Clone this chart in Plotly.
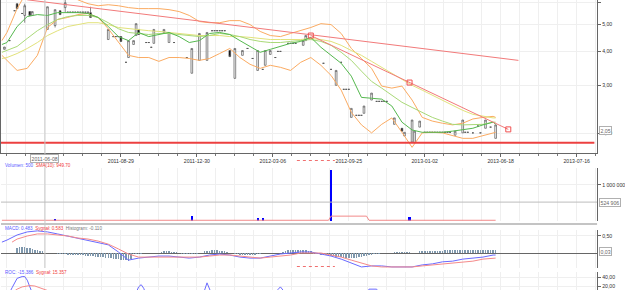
import math
import plotly.graph_objects as go

# ---------------- data ----------------
date_tick_idx = [45, 75, 105, 135, 165, 195, 225]
date_tick_lab = ["2011-08-29", "2011-12-30", "2012-03-06", "2012-09-25",
                 "2013-01-02", "2013-06-18", "2013-07-16"]
cursor_idx = 15
cursor_date = "2011-06-08"
cursor_price = 2.05
cursor_volume = 524906
cursor_macd = 0.03
marked_span = [114.5, 129.5]   # bar range marked with a red dotted bracket

# candles with a body (bar index, open, high, low, close)
b_idx = [-1, 4, 7, 9, 10, 16, 19, 21, 23, 33, 40, 45, 48, 50, 51, 52, 58, 62, 64, 73,
         76, 79, 88, 90, 93, 99, 102, 104, 117, 118, 130, 136, 141, 144, 153, 156, 157,
         160, 161, 163, 177, 180, 189, 193]
b_open = [4.06, 5.96, 5.40, 5.58, 5.40, 4.80, 4.96, 5.62, 5.77, 5.53, 4.41, 4.52, 3.79,
          4.23, 4.56, 4.80, 4.27, 4.68, 4.30, 3.32, 3.70, 3.70, 4.02, 3.18, 3.86, 3.40,
          3.55, 3.89, 4.20, 4.37, 3.00, 2.29, 2.37, 2.65, 2.16, 2.09, 1.96, 1.86, 1.85,
          2.11, 1.97, 2.01, 2.09, 1.92]
b_high = [4.14, 5.96, 5.96, 5.58, 5.58, 5.81, 5.67, 5.62, 6.30, 5.81, 4.80, 4.52, 4.37,
          4.37, 5.04, 4.80, 4.80, 4.80, 4.68, 4.09, 4.64, 4.68, 4.02, 4.09, 4.02, 4.02,
          4.02, 4.02, 4.37, 4.56, 3.40, 2.47, 2.52, 2.81, 2.28, 2.09, 2.02, 2.24, 2.04,
          2.22, 2.04, 2.24, 2.24, 2.15]
b_low = [4.06, 5.72, 5.08, 5.40, 5.40, 4.80, 4.88, 5.44, 5.53, 5.31, 4.41, 4.34, 3.79,
         4.23, 4.56, 4.60, 4.27, 4.68, 4.30, 3.32, 3.70, 3.70, 3.82, 3.18, 3.86, 3.40,
         3.55, 3.89, 4.20, 4.37, 3.00, 2.29, 2.37, 2.65, 2.16, 2.04, 1.96, 1.86, 1.85,
         2.11, 1.97, 2.01, 2.09, 1.92]
b_close = [4.14, 5.72, 5.86, 5.40, 5.58, 5.81, 5.67, 5.44, 6.01, 5.31, 4.80, 4.34, 4.37,
           4.37, 5.04, 4.60, 4.80, 4.80, 4.68, 4.09, 4.64, 4.68, 3.82, 4.09, 4.02, 4.02,
           4.02, 4.02, 4.37, 4.56, 3.40, 2.47, 2.52, 2.81, 2.28, 2.04, 2.02, 2.24, 2.04,
           2.22, 2.04, 2.24, 2.24, 2.15]

# flat sessions (open = high = low = close)
d_idx = [1, 3, 6, 24, 25, 26, 27, 28, 29, 30, 31, 32, 42, 43, 44, 47, 55, 56, 57, 66, 71,
         81, 82, 83, 84, 85, 86, 95, 97, 101, 106, 107, 108, 111, 112, 113, 114, 125, 128,
         132, 133, 134, 135, 138, 139, 140, 146, 147, 148, 149, 150, 165, 166, 167, 168,
         169, 170, 171, 172, 173, 174, 175, 181, 182, 184, 186, 187, 191]
d_price = [4.37, 5.62, 5.49, 5.55, 5.55, 5.55, 5.55, 5.55, 5.55, 5.55, 5.55, 5.55, 4.52,
           4.52, 4.52, 3.64, 4.30, 4.30, 4.13, 4.30, 3.79, 4.75, 4.75, 4.75, 4.75, 4.75,
           4.75, 4.09, 3.76, 3.43, 3.79, 3.99, 3.99, 4.27, 4.27, 4.27, 4.27, 3.61, 3.43,
           3.64, 2.90, 2.90, 2.90, 2.33, 2.33, 2.33, 2.62, 2.62, 2.62, 2.62, 2.62, 2.02,
           2.02, 2.02, 2.02, 2.02, 2.02, 2.02, 2.02, 2.02, 2.02, 2.02, 2.02, 2.02, 2.01,
           2.13, 2.01, 2.11]

# indicator lines sampled at these bar indices
ind_x = [-2, 0, 4, 8, 12, 16, 20, 24, 28, 32, 36, 40, 44, 48, 52, 56, 60, 64, 68, 72, 76,
         80, 84, 88, 92, 96, 100, 104, 108, 112, 116, 120, 124, 128, 132, 136, 140, 144,
         148, 152, 156, 160, 164, 168, 172, 176, 180, 184, 188, 192, 193]
ma_fast = [4.23, 4.30, 4.92, 5.35, 5.44, 5.40, 5.53, 5.53, 5.53, 5.49, 5.31, 4.92, 4.52,
           4.37, 4.68, 4.52, 4.60, 4.68, 4.52, 4.30, 4.37, 4.64, 4.68, 4.60, 4.37, 4.16,
           3.96, 4.06, 4.16, 4.27, 4.34, 4.49, 4.13, 3.86, 3.61, 3.24, 2.71, 2.69, 2.67,
           2.52, 2.20, 2.06, 2.02, 2.02, 2.02, 2.04, 2.06, 2.09, 2.15, 2.20, 2.16]
ma_mid = [3.96, 4.02, 4.16, 4.45, 4.75, 5.00, 5.22, 5.35, 5.40, 5.40, 5.31, 5.08, 4.83,
          4.68, 4.64, 4.60, 4.64, 4.64, 4.60, 4.56, 4.52, 4.56, 4.64, 4.60, 4.52, 4.41,
          4.34, 4.30, 4.30, 4.34, 4.37, 4.41, 4.34, 4.20, 3.96, 3.70, 3.38, 3.10, 2.93,
          2.76, 2.60, 2.49, 2.39, 2.29, 2.22, 2.16, 2.15, 2.15, 2.16, 2.20, 2.20]
ma_slow = [3.76, 3.79, 3.92, 4.09, 4.30, 4.56, 4.75, 4.92, 5.00, 5.08, 5.08, 5.00, 4.88,
           4.83, 4.80, 4.75, 4.72, 4.68, 4.64, 4.60, 4.56, 4.56, 4.56, 4.52, 4.52, 4.49,
           4.45, 4.41, 4.41, 4.41, 4.41, 4.45, 4.41, 4.34, 4.20, 4.02, 3.86, 3.67, 3.49,
           3.32, 3.16, 3.00, 2.88, 2.76, 2.65, 2.54, 2.43, 2.35, 2.31, 2.28, 2.28]
bb_upper = [4.37, 4.68, 5.72, 6.64, 7.23, 7.23, 6.93, 6.54, 6.16, 5.96, 5.86, 5.91, 5.86,
            5.77, 5.72, 5.72, 5.72, 5.67, 5.58, 5.40, 5.13, 5.08, 5.08, 5.17, 5.17, 5.00,
            4.72, 4.56, 4.52, 4.64, 4.75, 4.88, 5.04, 5.00, 4.64, 4.09, 3.76, 3.46, 2.98,
            2.93, 2.98, 2.65, 2.29, 2.22, 2.18, 2.15, 2.18, 2.26, 2.29, 2.31, 2.29]
bb_lower = [3.86, 3.70, 3.40, 3.46, 3.86, 4.88, 5.22, 5.31, 5.44, 5.49, 5.31, 4.83, 4.30,
            3.86, 3.79, 3.79, 3.67, 3.79, 3.79, 3.76, 3.70, 3.76, 3.92, 4.09, 3.79, 3.58,
            3.46, 3.55, 3.49, 3.40, 3.64, 3.79, 3.55, 3.26, 2.88, 2.39, 2.15, 2.01, 2.16,
            2.28, 2.02, 1.78, 2.01, 2.02, 2.01, 1.96, 1.92, 1.92, 1.96, 2.01, 2.02]

# drawn trend lines
trend1_x = [8, 202]
trend1_y = [6.16, 3.70]
trend2_x = [120, 159, 198]
trend2_y = [4.56, 3.07, 2.07]
support_x = [-3, 232]
support_y = [1.85, 1.85]

# volume
vol_idx = [19, 73, 99, 101, 128, 159]
vol_val = [60000, 140000, 90000, 90000, 1420000, 120000]
vol_sma_x = [-2, 127, 128, 142, 143, 193]
vol_sma_y = [20000, 20000, 135000, 135000, 20000, 20000]

# MACD
macd_line = [0.32, 0.38, 0.53, 0.62, 0.65, 0.62, 0.56, 0.50, 0.44, 0.38, 0.32, 0.24, 0.03,
             -0.21, -0.15, -0.12, -0.09, -0.09, -0.12, -0.15, -0.12, -0.06, -0.03, -0.06,
             -0.12, -0.15, -0.15, -0.09, -0.03, 0.00, 0.03, 0.03, -0.03, -0.09, -0.18,
             -0.29, -0.41, -0.38, -0.38, -0.41, -0.41, -0.41, -0.35, -0.32, -0.26, -0.24,
             -0.18, -0.15, -0.12, -0.06, -0.06]
sig_x = [2, 4, 8, 12, 16, 20, 24, 28, 32, 36, 40, 44, 48, 52, 56, 60, 64, 68, 72, 76, 80,
         84, 88, 92, 96, 100, 104, 108, 112, 116, 120, 124, 128, 132, 136, 140, 144, 148,
         152, 156, 160, 164, 168, 172, 176, 180, 184, 188, 192, 193]
sig_line = [0.32, 0.41, 0.50, 0.56, 0.56, 0.53, 0.50, 0.44, 0.41, 0.35, 0.26, 0.12, -0.03,
            -0.12, -0.12, -0.12, -0.12, -0.12, -0.12, -0.12, -0.09, -0.06, -0.06, -0.09,
            -0.12, -0.15, -0.12, -0.09, -0.06, 0.00, 0.00, 0.00, -0.06, -0.12, -0.21,
            -0.29, -0.38, -0.41, -0.41, -0.41, -0.41, -0.38, -0.35, -0.32, -0.29, -0.26,
            -0.24, -0.18, -0.15, -0.15]
hist_segments = [
    (4, [0.15, 0.17, 0.17, 0.17, 0.15, 0.14, 0.12, 0.09, 0.08, 0.06, 0.05]),
    (20, [-0.03, -0.03, -0.04, -0.04, -0.05, -0.05, -0.05, -0.05, -0.06, -0.07, -0.07,
          -0.08, -0.08, -0.09, -0.10, -0.11, -0.11, -0.12, -0.13, -0.14, -0.15, -0.16,
          -0.17, -0.18, -0.19, -0.20, -0.21, -0.22, -0.23, -0.18]),
    (50, [-0.03, -0.02, -0.02, -0.02, -0.01, -0.01]),
    (61, [0.04, 0.05, 0.05, 0.05, 0.04, 0.04, 0.03]),
    (69, [-0.02, -0.03, -0.03, -0.03, -0.03, -0.02, -0.02, -0.01]),
    (78, [0.05, 0.06, 0.07, 0.08, 0.08, 0.08, 0.07, 0.07, 0.06, 0.04]),
    (90, [-0.03, -0.04, -0.05, -0.05, -0.06, -0.06, -0.06, -0.05, -0.05, -0.04, -0.03]),
    (109, [0.04, 0.06, 0.08, 0.09, 0.09, 0.09, 0.09, 0.09, 0.08, 0.08, 0.07, 0.05]),
    (121, [-0.02, -0.03, -0.04, -0.05, -0.06, -0.07, -0.08, -0.09, -0.10, -0.11, -0.12,
           -0.13, -0.14, -0.14, -0.15, -0.15, -0.15, -0.14, -0.13, -0.12, -0.10, -0.08,
           -0.06, -0.05, -0.04, -0.03, -0.02]),
    (153, [0.02, 0.02, 0.02, 0.02, 0.02, 0.02, 0.02]),
    (163, [0.05, 0.05, 0.06, 0.06, 0.06, 0.06, 0.07, 0.07, 0.07, 0.07, 0.08, 0.08, 0.08,
           0.08, 0.08, 0.09, 0.09, 0.09, 0.09, 0.09, 0.10, 0.10, 0.10, 0.10, 0.10, 0.10,
           0.10, 0.10, 0.10, 0.10, 0.10]),
]

# ROC
roc_x = [-2, 1, 2, 3, 4, 6, 7, 8, 9, 10, 11, 49, 51, 52, 53, 54, 55, 76, 78, 79, 80, 81,
         106, 107, 108, 109, 112, 141, 143, 146, 148, 193]
roc_y = [-5, 5, 16, 28, 37, 41, 41, 33, 20, 5, -10, -10, 5, 18, 23, 15, 0, -10, 10, 27, 15,
         0, -10, 12, 18, 8, -10, -5, 13, 13, -5, -15]
roc_sig_x = [2, 4, 6, 9, 11, 13, 16, 19, 193]
roc_sig_y = [5, 13, 18, 21, 20, 16, 10, 0, -10]

# ---------------- figure ----------------
W, H = 625, 290
PLOT_R = 598 / W
FONT = "Liberation Sans"
def py(px):  # paper y from pixel row
    return 1 - px / H

hist_x, hist_y = [], []
for start, vals in hist_segments:
    for k, v in enumerate(vals):
        hist_x.append(start + k)
        hist_y.append(v)

fig = go.Figure()

c_x = b_idx + d_idx
fig.add_trace(go.Candlestick(
    x=c_x, open=b_open + d_price, high=b_high + d_price, low=b_low + d_price,
    close=b_close + d_price, xaxis="x", yaxis="y",
    increasing=dict(line=dict(color="#555555", width=0.7), fillcolor="#ffffff"),
    decreasing=dict(line=dict(color="#555555", width=0.7), fillcolor="#000000"),
    whiskerwidth=0, hoverinfo="skip"))

for vals, col in [(bb_upper, "#fbab62"), (bb_lower, "#fbab62"), (ma_slow, "#e2e27a"),
                  (ma_mid, "#a9d977"), (ma_fast, "#55b84e")]:
    fig.add_trace(go.Scatter(x=ind_x, y=vals, mode="lines", xaxis="x", yaxis="y",
                             line=dict(color=col, width=1), hoverinfo="skip"))

fig.add_trace(go.Scatter(x=trend1_x, y=trend1_y, mode="lines", xaxis="x", yaxis="y",
                         line=dict(color="#f27a7a", width=1)))
fig.add_trace(go.Scatter(x=trend2_x, y=trend2_y, mode="lines+markers", xaxis="x", yaxis="y",
                         line=dict(color="#f27a7a", width=1),
                         marker=dict(symbol="square-open", size=5, color="#f05050",
                                     line=dict(width=1))))
fig.add_trace(go.Scatter(x=support_x, y=support_y, mode="lines", xaxis="x", yaxis="y",
                         line=dict(color="#ec4040", width=2)))

# volume
fig.add_trace(go.Bar(x=vol_idx, y=vol_val, xaxis="x2", yaxis="y2", width=0.9,
                     marker=dict(color="#0000ff", line=dict(width=0))))
fig.add_trace(go.Scatter(x=vol_sma_x, y=vol_sma_y, mode="lines", xaxis="x2", yaxis="y2",
                         line=dict(color="#f28a8a", width=1)))

# MACD
fig.add_trace(go.Bar(x=hist_x, y=hist_y, xaxis="x3", yaxis="y3", width=0.6,
                     marker=dict(color="#7f98ad", line=dict(width=0))))
fig.add_trace(go.Scatter(x=ind_x, y=macd_line, mode="lines", xaxis="x3", yaxis="y3",
                         line=dict(color="#6a6aff", width=1)))
fig.add_trace(go.Scatter(x=sig_x, y=sig_line, mode="lines", xaxis="x3", yaxis="y3",
                         line=dict(color="#f58a8a", width=1)))

# ROC
fig.add_trace(go.Scatter(x=roc_x, y=roc_y, mode="lines", xaxis="x4", yaxis="y4",
                         line=dict(color="#6a6aff", width=1)))
fig.add_trace(go.Scatter(x=roc_sig_x, y=roc_sig_y, mode="lines", xaxis="x4", yaxis="y4",
                         line=dict(color="#f58a8a", width=1)))

xr = [-6 / 2.54, (598 - 6) / 2.54]
grid_minor = dict(dtick=7.5, tick0=0, showgrid=True, gridcolor="#efefef", gridwidth=1)
base_x = dict(range=xr, domain=[0, PLOT_R], showgrid=True, gridcolor="#efefef",
              tickvals=date_tick_idx, zeroline=False, fixedrange=True)
axis_font = dict(family=FONT, size=5.2, color="#333333")

layout_axes = dict(
    xaxis=dict(base_x, anchor="y", ticktext=date_tick_lab, showticklabels=True,
               tickfont=axis_font, ticks="outside", ticklen=3, tickcolor="#666",
               showline=True, linecolor="#666666", linewidth=1,
               minor=dict(grid_minor, ticks="outside", ticklen=2, tickcolor="#777")),
    xaxis2=dict(base_x, anchor="y2", matches="x", showticklabels=False,
                minor=grid_minor),
    xaxis3=dict(base_x, anchor="y3", matches="x", showticklabels=False,
                minor=grid_minor),
    xaxis4=dict(base_x, anchor="y4", matches="x", showticklabels=False,
                minor=grid_minor),
    yaxis=dict(domain=[py(153), 1], type="log",
               range=[math.log10(1.697), math.log10(6.15)], side="right", anchor="x",
               tickvals=[2, 3, 4, 5, 6], ticktext=["2,00", "3,00", "4,00", "5,00", "6,00"],
               tickfont=axis_font, ticks="outside", ticklen=3, tickcolor="#666",
               showline=True, mirror=True, linecolor="#666666", gridcolor="#efefef",
               zeroline=False, fixedrange=True),
    yaxis2=dict(domain=[py(221), py(168)], range=[0, 1472000], side="right", anchor="x2",
                tickvals=[1000000], ticktext=["1 000 000"], tickfont=axis_font,
                ticks="outside", ticklen=3, tickcolor="#666", showline=True,
                linecolor="#666666", gridcolor="#efefef", zeroline=False, fixedrange=True),
    yaxis3=dict(domain=[py(268), py(230)], range=[-0.441, 0.676], side="right",
                anchor="x3", tickvals=[0.5], ticktext=["0,50"], tickfont=axis_font,
                ticks="outside", ticklen=3, tickcolor="#666", showline=True,
                linecolor="#666666", gridcolor="#efefef", zeroline=True,
                zerolinecolor="#666666", zerolinewidth=1, fixedrange=True),
    yaxis4=dict(domain=[0, py(272)], range=[11.1, 51.1], side="right", anchor="x4",
                tickvals=[20, 40], ticktext=["20,00", "40,00"], tickfont=axis_font,
                ticks="outside", ticklen=3, tickcolor="#666", showline=True,
                linecolor="#666666", gridcolor="#efefef", zeroline=False, fixedrange=True),
)

shapes = [
    dict(type="line", xref="paper", yref="paper", x0=0, x1=PLOT_R, y0=py(224), y1=py(224),
         line=dict(color="#c4c4c4", width=2)),
    dict(type="line", xref="x", yref="paper", x0=cursor_idx, x1=cursor_idx, y0=py(268),
         y1=1, line=dict(color="#c8c8c8", width=1)),
    dict(type="line", xref="paper", yref="y2", x0=0, x1=PLOT_R, y0=cursor_volume,
         y1=cursor_volume, line=dict(color="#bdbdbd", width=1)),
    dict(type="line", xref="x", yref="paper", x0=marked_span[0], x1=marked_span[1],
         y0=py(160.5), y1=py(160.5), line=dict(color="#f07070", width=1, dash="dot")),
    dict(type="line", xref="x", yref="paper", x0=marked_span[0], x1=marked_span[1],
         y0=py(266.5), y1=py(266.5), line=dict(color="#f07070", width=1, dash="dot")),
]

def box(text, x, y, xref, yref, xanchor="left"):
    return dict(text=text, x=x, y=y, xref=xref, yref=yref, xanchor=xanchor,
                yanchor="middle", showarrow=False, bgcolor="#ffffff",
                bordercolor="#b0b0b0", borderwidth=1, borderpad=0.5,
                font=dict(family=FONT, size=5.2, color="#666666"))

ann = [
    box(cursor_date, cursor_idx, py(158), "x", "paper", xanchor="center"),
    box("2,05", 600 / W, math.log10(cursor_price), "paper", "y"),
    box("524 906", 600 / W, cursor_volume, "paper", "y2"),
    box("0,03", 600 / W, cursor_macd, "paper", "y3"),
    dict(text="<span style='color:#5a5aff'>Volumen: 500</span>  "
              "<span style='color:#f04040'>SMA(10): 949.70</span>",
         x=2 / W, y=py(165), xref="paper", yref="paper", xanchor="left", yanchor="middle",
         showarrow=False, font=dict(family=FONT, size=4.6)),
    dict(text="<span style='color:#5a5aff'>MACD: 0.483</span>  "
              "<span style='color:#f04040'>Sygnał: 0.583</span>  "
              "<span style='color:#777777'>Histogram: -0.110</span>",
         x=2 / W, y=py(228), xref="paper", yref="paper", xanchor="left", yanchor="middle",
         showarrow=False, font=dict(family=FONT, size=4.6)),
    dict(text="<span style='color:#5a5aff'>ROC: -15.386</span>  "
              "<span style='color:#f04040'>Sygnał: 15.357</span>",
         x=2 / W, y=py(272), xref="paper", yref="paper", xanchor="left", yanchor="middle",
         showarrow=False, font=dict(family=FONT, size=4.6)),
]

fig.update_layout(
    width=W, height=H, margin=dict(l=0, r=0, t=0, b=0, pad=0),
    paper_bgcolor="#ffffff", plot_bgcolor="#ffffff", showlegend=False,
    bargap=0, boxgap=0.05, separators=", ", shapes=shapes, annotations=ann,
    font=dict(family=FONT, size=5.2, color="#333333"),
    **layout_axes)
fig.update_xaxes(rangeslider_visible=False)

fig.write_html("out.html", config={"displayModeBar": False, "staticPlot": True})
